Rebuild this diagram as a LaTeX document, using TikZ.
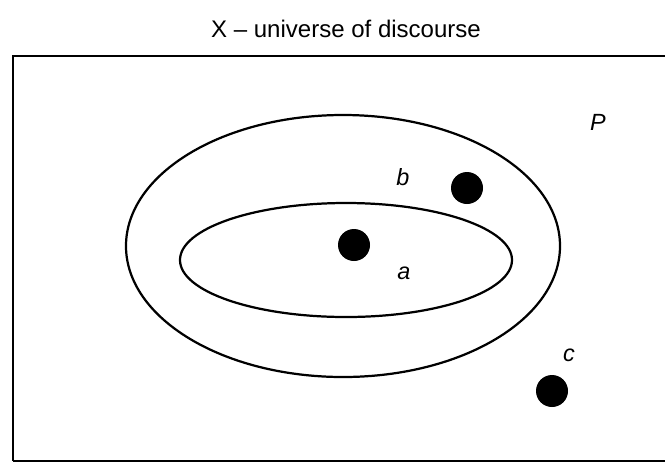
\documentclass[tikz,border=0pt]{standalone}
\usepackage{fontspec}
\setmainfont{Liberation Sans}
\usetikzlibrary{shapes.geometric}
\begin{document}
\begin{tikzpicture}[x=0.03cm,y=-0.03cm,
  frame/.style={draw=black,line width=2pt},
  setline/.style={draw=black,line width=1.9pt},
  elem/.style={circle,fill=black,minimum size=0.96cm,inner sep=0pt},
  lbl/.style={font=\fontsize{20}{24}\selectfont\itshape,inner sep=0pt},
  title/.style={font=\fontsize{20.5}{24}\selectfont,inner sep=0pt}]
\useasboundingbox (0,0) rectangle (665,463);
\node[title] (t) at (346,29) {X -- universe of discourse};
\draw[frame] (13,461) -- (13,56) -- (680,56);
\draw[frame] (13,461) -- (680,461);
\node[setline,ellipse,minimum width=13.02cm,minimum height=7.86cm,inner sep=0pt] (B) at (343,246) {};
\node[setline,ellipse,minimum width=9.96cm,minimum height=3.42cm,inner sep=0pt] (A) at (346,260) {};
\node[elem] (ea) at (354,245) {};
\node[elem] (eb) at (467,188) {};
\node[elem] (ec) at (552,391) {};
\node[lbl] (la) at (404,273) {a};
\node[lbl] (lb) at (403,177) {b};
\node[lbl] (lc) at (569,355) {c};
\node[lbl] (lp) at (598,122) {P};
\end{tikzpicture}
\end{document}
